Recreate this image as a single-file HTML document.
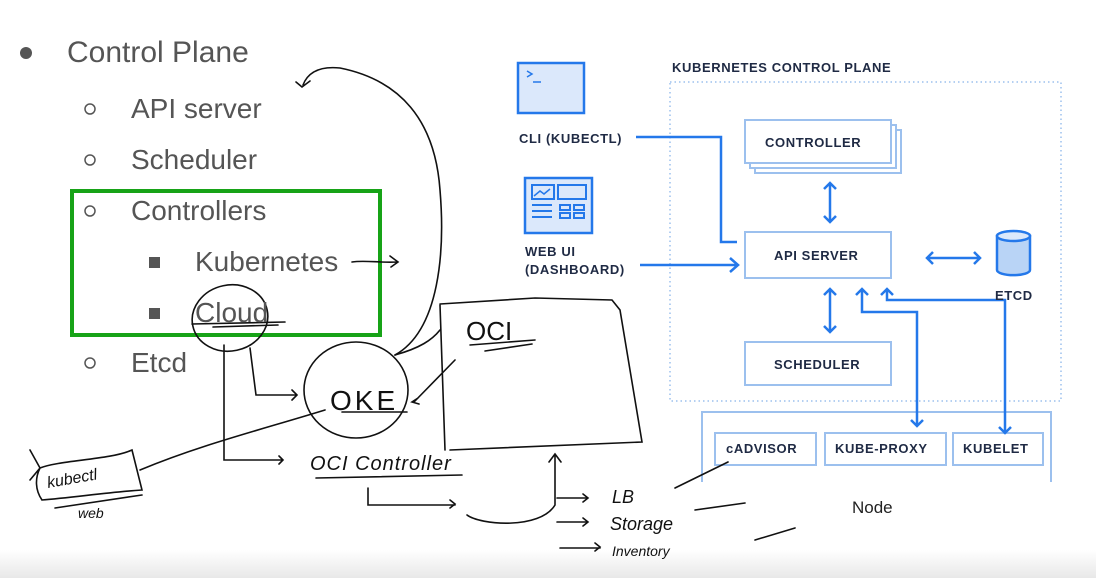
<!DOCTYPE html>
<html><head><meta charset="utf-8"><style>
body{margin:0;width:1096px;height:578px;background:#fff;overflow:hidden;position:relative;font-family:"Liberation Sans",sans-serif}
.t{position:absolute;color:#555;font-size:28px;white-space:nowrap;z-index:2}
.k{position:absolute;font-weight:bold;font-size:13px;color:#1f2a44;letter-spacing:.6px;white-space:nowrap;z-index:2}
svg{z-index:1}
</style></head><body>
<div class="t" style="left:67px;top:36px;font-size:30px">Control Plane</div>
<div class="t" style="left:131px;top:93px">API server</div>
<div class="t" style="left:131px;top:144px">Scheduler</div>
<div class="t" style="left:131px;top:195px">Controllers</div>
<div class="t" style="left:195px;top:246px">Kubernetes</div>
<div class="t" style="left:195px;top:297px">Cloud</div>
<div class="t" style="left:131px;top:347px">Etcd</div>
<div class="k" style="left:672px;top:60px">KUBERNETES CONTROL PLANE</div>
<div class="k" style="left:519px;top:131px">CLI (KUBECTL)</div>
<div class="k" style="left:525px;top:243px;line-height:18px">WEB UI<br>(DASHBOARD)</div>
<div class="k" style="left:765px;top:135px">CONTROLLER</div>
<div class="k" style="left:774px;top:248px">API SERVER</div>
<div class="k" style="left:774px;top:357px">SCHEDULER</div>
<div class="k" style="left:995px;top:288px">ETCD</div>
<div class="k" style="left:726px;top:441px">cADVISOR</div>
<div class="k" style="left:835px;top:441px">KUBE-PROXY</div>
<div class="k" style="left:963px;top:441px">KUBELET</div>
<div style="position:absolute;left:852px;top:498px;font-size:17px;color:#222">Node</div>
<svg width="1096" height="578" style="position:absolute;left:0;top:0">
<defs><linearGradient id="g" x1="0" y1="0" x2="0" y2="1"><stop offset="0" stop-color="#fff"/><stop offset="1" stop-color="#e8e8e8"/></linearGradient></defs>
<rect x="0" y="550" width="1096" height="28" fill="url(#g)"/>
<circle cx="26" cy="53" r="6" fill="#555"/>
<g fill="none" stroke="#555" stroke-width="1.5"><circle cx="90" cy="109" r="5"/><circle cx="90" cy="160" r="5"/><circle cx="90" cy="211" r="5"/><circle cx="90" cy="363" r="5"/></g>
<rect x="149" y="257" width="11" height="11" fill="#555"/><rect x="149" y="308" width="11" height="11" fill="#555"/>
<rect x="72" y="191" width="308" height="144" fill="none" stroke="#17a317" stroke-width="4"/>
<rect x="670" y="82" width="391" height="319" fill="none" stroke="#9cc0ee" stroke-width="1.5" stroke-dasharray="1.5 3"/>
<g fill="#fff" stroke="#9cc0ee" stroke-width="2">
<rect x="755" y="130" width="146" height="43"/><rect x="750" y="125" width="146" height="43"/><rect x="745" y="120" width="146" height="43"/>
<rect x="745" y="232" width="146" height="46"/><rect x="745" y="342" width="146" height="43"/>
<path d="M702 482V412H1051V482"/>
<rect x="715" y="433" width="101" height="32"/><rect x="825" y="433" width="121" height="32"/><rect x="953" y="433" width="90" height="32"/>
</g>
<g fill="none" stroke="#2478ea" stroke-width="2.5">
<rect x="518" y="63" width="66" height="50" fill="#dbe8fb"/>
<path d="M527 71l5 3-5 3M533 82h8" stroke-width="1.5"/>
<rect x="525" y="178" width="67" height="55" fill="#dbe8fb"/>
<path d="M532 185h22v14h-22zM558 185h28v14h-28zM532 205h20M532 211h20M532 217h20M560 205h10v5h-10zM574 205h10v5h-10zM560 213h10v5h-10zM574 213h10v5h-10z" stroke-width="2"/>
<path d="M534 196l6-5 4 3 6-5" stroke-width="1.5"/>
<path d="M636 137H721V242H737"/>
<path d="M640 265H738M730 258l8 7-8 7"/>
<path d="M830 183V222M824 189l6-6 6 6M824 216l6 6 6-6"/>
<path d="M927 258H980M933 252l-6 6 6 6M974 252l6 6-6 6"/>
<path d="M830 289V332M824 295l6-6 6 6M824 326l6 6 6-6"/>
<path d="M862 289V312H917V426M856 295l6-6 6 6M911 420l6 6 6-6"/>
<path d="M887 289V300H1005V433M881 295l6-6 6 6M999 427l6 6 6-6"/>
<path d="M997 236v34a16 5 0 0 0 33 0v-34z" fill="#b9d4f6"/><ellipse cx="1013.5" cy="236" rx="16.5" ry="5" fill="#dbe8fb"/>
</g>
<g fill="none" stroke="#111" stroke-width="1.6" stroke-linecap="round">
<path d="M395 355C440 330 445 250 440 190C435 120 400 80 340 68C320 66 308 72 303 85M296 82l6 5 8-6"/>
<path d="M352 262C365 260 380 263 397 262M390 256l8 6-7 5"/>
<ellipse cx="230" cy="318" rx="38" ry="33" transform="rotate(-12 230 318)"/>
<path d="M192 324L285 322M213 327L278 325"/>
<path d="M250 348L256 395H297M292 390l5 5-5 5"/>
<path d="M224 345V460H283M279 456l4 4-4 4"/>
<ellipse cx="356" cy="390" rx="52" ry="48"/>
<path d="M342 412H407M455 360L414 402M418 398l-6 4 7 2"/>
<path d="M395 355C420 348 432 340 440 330M440 305L445 450M440 304L535 298L612 300L620 310L642 442L450 450"/>
<path d="M470 345L535 340M485 351L532 344"/>
<path d="M140 470C200 445 260 430 325 410"/>
<path d="M30 450L40 468L30 480M40 468C60 460 110 460 132 450L142 490C110 492 70 498 42 500C35 490 35 478 40 468"/>
<path d="M55 508L142 495"/>
<path d="M316 478L462 475"/>
<path d="M368 488V505H455M450 500l5 4-5 4"/>
<path d="M467 515C480 525 540 530 555 505V455M549 462l6-8 6 8"/>
<path d="M557 498H588M583 494l5 4-5 4M557 522H588M583 518l5 4-5 4M560 548H600M595 543l5 4-5 4"/>
<path d="M675 488L728 462M695 510L745 503M755 540L795 528"/>
</g>
<g font-family="Liberation Sans,sans-serif" fill="#111" font-size="22">
<text x="330" y="410" font-size="28" letter-spacing="3">OKE</text>
<text x="466" y="340" font-size="26">OCI</text>
<text x="310" y="470" font-size="20" font-style="italic" letter-spacing="1">OCI Controller</text>
<text x="48" y="488" font-size="16" font-style="italic" transform="rotate(-10 48 488)">kubectl</text>
<text x="78" y="518" font-size="14" font-style="italic">web</text>
<text x="612" y="503" font-size="18" font-style="italic">LB</text>
<text x="610" y="530" font-size="18" font-style="italic">Storage</text>
<text x="612" y="556" font-size="14" font-style="italic">Inventory</text>
</g>
</svg>
</body></html>
